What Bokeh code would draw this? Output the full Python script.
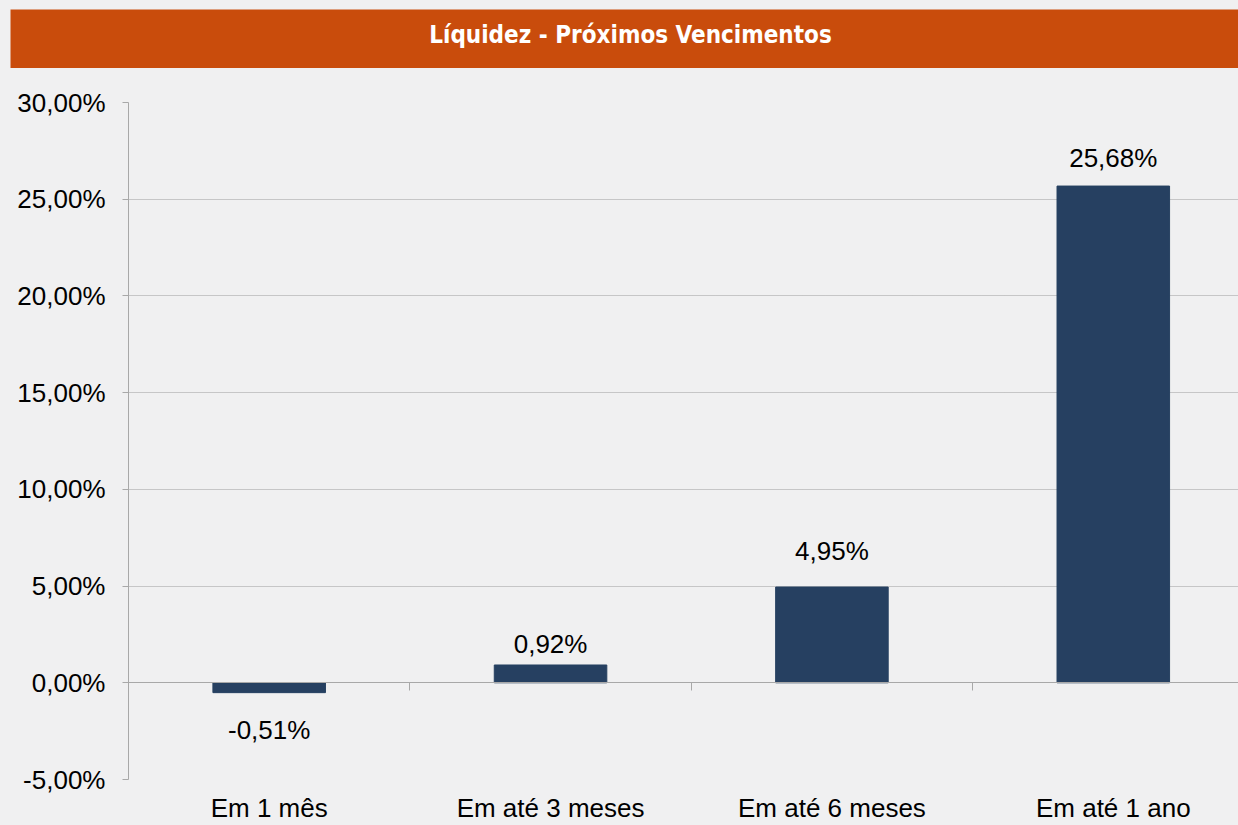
from bokeh.plotting import figure
from bokeh.layouts import column
from bokeh.models import Range1d, FixedTicker, LinearAxis, ColumnDataSource
from bokeh.core.properties import value
from bokeh.embed import file_html
from bokeh.resources import INLINE

# ---------------- data ----------------
TITLE = "Líquidez - Próximos Vencimentos"
categories = ["Em 1 mês", "Em até 3 meses", "Em até 6 meses", "Em até 1 ano"]
values = [-0.51, 0.92, 4.95, 25.68]
value_labels = ["-0,51%", "0,92%", "4,95%", "25,68%"]
y_ticks = [-5, 0, 5, 10, 15, 20, 25, 30]
y_tick_labels = ["-5,00%", "0,00%", "5,00%", "10,00%", "15,00%", "20,00%", "25,00%", "30,00%"]

# ---------------- style ----------------
BG = "#F0F0F1"
ORANGE = "#C94C0C"
BAR = "#264061"
AXIS = "#A8A8A8"
GRID = "#9C9C9C"
FONT = "Liberation Sans"
label_gap = [46, 12, 27, 19]  # px between bar end and label baseline
BASE_FIX = 9                  # renderer baseline correction (px)

centers = [i + 0.5 for i in range(len(categories))]
boundaries = list(range(len(categories) + 1))
offsets = [(g - BASE_FIX) if v < 0 else -(g + BASE_FIX) for v, g in zip(values, label_gap)]

# ---------------- title bar ----------------
tf = figure(width=1228, height=59, x_range=Range1d(0, 1), y_range=Range1d(0, 1),
            toolbar_location=None, output_backend="svg", min_border=0,
            x_axis_location=None, y_axis_location=None,
            background_fill_color=ORANGE, border_fill_color=ORANGE,
            outline_line_color=None)
tf.grid.visible = False
tf.margin = (9, 0, 0, 10)
aligned_off = True
if "frame_align" in tf.properties():
    tf.frame_align = False
    aligned_off = False
tf.text(x=[0.5], y=[0.5], text=[TITLE], x_offset=(-58 if aligned_off else 6), y_offset=-4,
        text_font=value("DejaVu Sans Condensed"), text_font_style="bold",
        text_font_size="24px", text_color="#FFFFFF",
        text_align="center", text_baseline="middle")

# ---------------- main chart ----------------
p = figure(width=1238, height=757, x_range=Range1d(0, 3.945), y_range=Range1d(-5, 30),
           toolbar_location=None, output_backend="svg",
           min_border_left=128, min_border_right=0, min_border_top=34, min_border_bottom=45,
           background_fill_color=BG, border_fill_color=BG, outline_line_color=None)

p.vbar(x=centers, top=values, bottom=0, width=0.4, fill_color=BAR, line_color=BAR)

src = ColumnDataSource(dict(x=centers, y=values, label=value_labels, off=offsets))
p.text(x="x", y="y", text="label", y_offset="off", source=src,
       text_font=value(FONT), text_font_size="26px", text_color="#000000",
       text_align="center", text_baseline="alphabetic")

# category axis
xa = p.xaxis[0]
xa.ticker = FixedTicker(ticks=centers)
xa.major_label_overrides = {c: n for c, n in zip(centers, categories)}
xa.axis_line_color = None
xa.major_tick_line_color = None
xa.minor_tick_line_color = None
xa.major_tick_out = 0
xa.major_tick_in = 0
xa.major_label_standoff = 13
xa.major_label_text_font = FONT
xa.major_label_text_font_size = "26px"
xa.major_label_text_color = "#000000"

# value axis
ya = p.yaxis[0]
ya.ticker = FixedTicker(ticks=y_ticks)
ya.major_label_overrides = {t: l for t, l in zip(y_ticks, y_tick_labels)}
ya.axis_line_color = AXIS
ya.major_tick_line_color = AXIS
ya.minor_tick_line_color = None
ya.major_tick_out = 6
ya.major_tick_in = 0
ya.major_label_standoff = 17
ya.major_label_text_font = FONT
ya.major_label_text_font_size = "26px"
ya.major_label_text_color = "#000000"

p.xgrid.visible = False
p.ygrid.ticker = FixedTicker(ticks=y_ticks)
p.ygrid.grid_line_color = GRID
p.ygrid.grid_line_dash = "1 1"
p.ygrid.grid_line_width = 1

# zero line with category boundary ticks
za = LinearAxis(fixed_location=0, ticker=FixedTicker(ticks=boundaries),
                axis_line_color=AXIS, major_tick_line_color=AXIS,
                minor_tick_line_color=None, major_tick_out=8, major_tick_in=0,
                major_label_text_color=None)
p.add_layout(za, "below")

layout = column(tf, p, spacing=0, styles={"background-color": BG})
open("out.html", "w").write(file_html(layout, INLINE))
